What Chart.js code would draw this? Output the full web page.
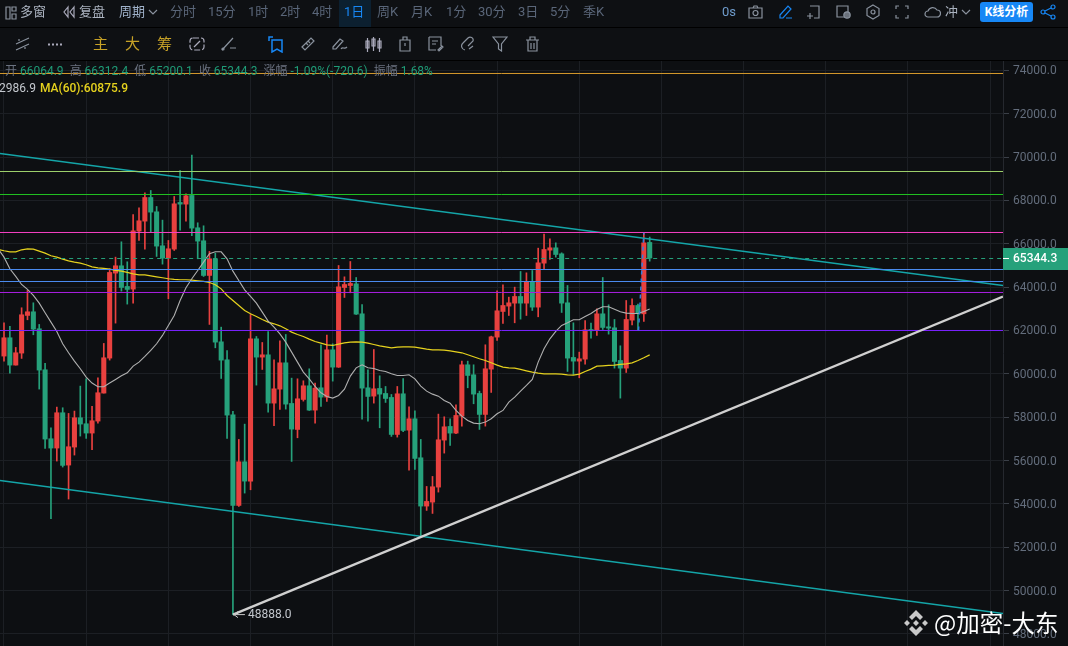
<!DOCTYPE html>
<html lang="zh"><head><meta charset="utf-8">
<script src="https://cdn.jsdelivr.net/npm/chart.js@4"></script>
<style>
html,body{margin:0;padding:0;background:#0d0f12;overflow:hidden}
#wrap{position:relative;width:1068px;height:646px;font-family:Roboto,"Noto Sans CJK SC",sans-serif;overflow:hidden}
#cv{position:absolute;left:0;top:60px}
.bar{position:absolute;left:0;width:1068px;background:#0e1013}
.sep{position:absolute;left:0;width:1068px;height:1px;background:#000}
.t{position:absolute;white-space:nowrap;font-size:13px;line-height:16px}
svg.i{position:absolute;fill:none;stroke:#8a929e;stroke-width:1.2}
#info{position:absolute;left:5px;top:64px;font-size:12px;line-height:15px;white-space:nowrap;color:#6b7280}
#info b{font-weight:400;color:#1f9d78;margin-right:6px}
.ma{position:absolute;top:81px;font-size:12px;line-height:15px;white-space:nowrap}
#wm{position:absolute;left:934px;top:606px;font-size:23.500px;line-height:32px;color:#fff;white-space:nowrap;font-family:"Noto Sans CJK SC",sans-serif}
</style></head><body>
<div id="wrap">
<canvas id="cv" width="1068" height="586"></canvas>
<div class="bar" style="top:0;height:27px"></div>
<div class="bar" style="top:28px;height:32px"></div>
<div class="sep" style="top:27px"></div><div class="sep" style="top:60px"></div>
<div style="position:absolute;left:339px;top:0;width:32px;height:27px;background:#0c2030"></div>
<div id="bar1"></div>
<div style="position:absolute;left:980px;top:2px;width:53px;height:20px;background:#1787f5;border-radius:3px;color:#fff;font-size:12px;font-weight:700;line-height:20px;text-align:center">K线分析</div>
<div id="info">开 <b>66064.9</b>高 <b>66312.4</b>低 <b>65200.1</b>收 <b>65344.3</b>涨幅 <b>-1.09%(-720.6)</b>振幅 <b>1.68%</b></div>
<div class="ma" style="left:-1px;color:#c4c8ce">2986.9</div>
<div class="ma" style="left:40px;color:#e6d21e;font-weight:500">MA(60):60875.9</div>
<!-- icons -->
<svg class="i" style="left:4px;top:6px" width="14" height="14"><path d="M2 1h4v12H2zM8 1h4v4H8zM8 8h4v5H8z"/></svg>
<svg class="i" style="left:61px;top:5px;stroke:#aab" width="16" height="14"><path d="M7 2L3 7l4 5zM13 2L9 7l4 5z"/></svg>
<svg class="i" style="left:148px;top:8px" width="10" height="8"><path d="M1 2l4 4 4-4"/></svg>
<svg class="i" style="left:748px;top:5px" width="15" height="14"><path d="M1 3h13v10H1zM5 3l1-2h3l1 2"/><circle cx="7.5" cy="8" r="2.5"/></svg>
<svg class="i" style="left:778px;top:4px;stroke:#1787f5" width="15" height="16"><path d="M2 11l8-9 3 3-8 9H2zM8 14h6"/></svg>
<svg class="i" style="left:806px;top:5px" width="14" height="14"><path d="M4 1h9v12H8M1 11h6M4 8v6"/></svg>
<svg class="i" style="left:836px;top:5px" width="15" height="14"><path d="M1 1h11v11H1z"/><circle cx="11" cy="10" r="3.2" fill="#6a717b"/></svg>
<svg class="i" style="left:866px;top:4px" width="14" height="16"><path d="M7 1l6 3.500v7L7 15l-6-3.500v-7z"/><circle cx="7" cy="8" r="2"/></svg>
<svg class="i" style="left:895px;top:5px" width="14" height="14"><path d="M1 4V1h3M10 1h3v3M13 10v3h-3M4 13H1v-3"/></svg>
<svg class="i" style="left:924px;top:5px" width="17" height="13"><path d="M4 12a3 3 0 0 1 0-6 5 5 0 0 1 9-1 3.500 3.500 0 0 1 0 7z"/></svg>
<svg class="i" style="left:961px;top:8px" width="10" height="8"><path d="M1 2l4 4 4-4"/></svg>
<svg class="i" style="left:1040px;top:4px;stroke:#1787f5" width="16" height="16"><circle cx="3" cy="8" r="2"/><circle cx="13" cy="3" r="2"/><circle cx="13" cy="13" r="2"/><path d="M5 7l6-3M5 9l6 3"/></svg>
<svg class="i" style="left:14px;top:36px" width="17" height="16"><path d="M2 8l13-6M2 14l13-6M5 3v2M11 11v2"/></svg>
<svg class="i" style="left:48px;top:43px;stroke:#aab;stroke-width:2;stroke-dasharray:2 2" width="14" height="3"><path d="M0 1.500h14"/></svg>
<svg class="i" style="left:189px;top:36px;stroke:#aab" width="16" height="16"><rect x="1" y="2" width="14" height="12" rx="3" stroke-dasharray="6 2"/><path d="M5 11l6-6"/></svg>
<svg class="i" style="left:221px;top:36px" width="16" height="16"><path d="M1 14L12 2M9 12h6"/><circle cx="2" cy="13" r="1"/></svg>
<svg class="i" style="left:268px;top:36px;stroke:#1787f5;stroke-width:1.500" width="16" height="17"><path d="M1 5V1h4M4 4h10v12l-5-3-5 3z"/></svg>
<svg class="i" style="left:300px;top:36px" width="16" height="16"><path d="M2 11l9-9 3 3-9 9zM6 7l2 2M8 5l2 2"/></svg>
<svg class="i" style="left:331px;top:36px" width="18" height="16"><path d="M2 11l7-8 3 2-7 8H2zM10 13c2-3 3 1 6-2"/></svg>
<svg class="i" style="left:364px;top:36px;stroke:#aab" width="18" height="16"><path d="M2 5h3v7H2zM8 3h3v7H8zM14 5h3v7h-3zM3.500 2v14M9.500 1v14M15.500 2v14"/></svg>
<svg class="i" style="left:398px;top:36px" width="14" height="16"><path d="M2 4h10v11H2zM5 4V1h4v3M7 7v3"/></svg>
<svg class="i" style="left:428px;top:36px" width="16" height="16"><path d="M1 1h12v9M1 1v13h7M4 5h6M4 8h4M10 14l4-4 1 1-4 4z"/></svg>
<svg class="i" style="left:460px;top:36px" width="16" height="16"><path d="M5 14a4 4 0 0 1-2-7l5-5a3 3 0 0 1 5 3l-5 5M9 13l4-3"/></svg>
<svg class="i" style="left:492px;top:36px" width="16" height="16"><path d="M1 1h14L9.500 8v7L6.500 13V8z"/></svg>
<svg class="i" style="left:525px;top:36px" width="15" height="16"><path d="M1 4h13M5 4V1h5v3M3 4v11h9V4M6 7v6M9 7v6"/></svg>
<svg style="position:absolute;left:902px;top:609px" width="28" height="28" viewBox="0 0 28 28" fill="#c9c9c9"><path d="M14 1l7 7-3 3-4-4-4 4-3-3zM5 11l3 3-3 3-3-3zM23 11l3 3-3 3-3-3zM14 11l3 3-3 3-3-3zM7 20l3-3 4 4 4-4 3 3-7 7z"/></svg>
<div id="wm">@加密-大东</div>
</div>
<script>
const opens=[60819,61665,60403,60957,62695,62864,62080,60188,57004,56574,58204,55789,56620,57973,57696,57266,57819,59111,60726,64648,64987,64033,63910,66586,67047,68139,67478,65909,65340,65756,67909,67832,68232,66740,66140,64540,65309,61478,60648,58110,53926,55941,55049,61616,60771,60878,58648,59294,60509,58633,57433,58817,59448,58325,59356,58925,61109,60309,63985,64077,64154,62770,59356,58971,59325,59094,58910,57202,59079,57402,57925,56126,53896,54080,54772,56941,57572,57264,58049,60417,59956,59094,58126,60217,61694,62878,63124,63262,63570,63262,64231,63078,65108,65708,65816,65539,63278,60756,60586,60679,62047,62001,62770,62170,62124,60617,60263,62478,63155,62770,66064.9];
const closes=[61665,60403,60972,62726,62864,62064,60173,56989,56574,58204,55774,56635,57973,57681,57266,57835,59127,60742,64679,64987,63987,63895,66601,67063,68139,67463,65894,65340,65771,67847,67832,68216,66724,66125,64540,65309,61463,60632,58095,53926,55941,55049,61616,60771,60878,58648,59309,60509,58602,57449,58848,59448,58325,59340,58925,61109,60309,64016,64123,64170,62755,59340,58956,59309,59063,58863,57202,59079,57387,57925,56095,53896,54111,54788,56956,57556,57264,58079,60417,59925,59064,58126,60233,61709,62909,63155,63278,63570,63262,64231,63078,65123,65739,65816,65508,63262,60725,60586,60694,62032,61986,62770,62140,62109,60571,60263,62509,63155,62786,66046,65344.3];
const highs=[62357,62187,61218,63049,63848,63279,62280,60480,57512,58465,58435,58173,58281,59434,59773,58496,59819,61403,64848,65386,66094,65171,67355,67663,68355,68462,67724,67094,66155,68186,69385,68308,70093,66971,66832,65648,65571,62155,61078,58264,56972,57679,62739,61724,61447,61955,60648,61524,61816,59802,59771,59679,60232,59571,61340,61786,61386,65000,64477,65185,64446,63201,60186,61124,59909,59417,59048,59417,59786,58479,58294,56972,54803,55265,58141,58018,57926,58572,60586,60586,60417,59202,61340,61740,63832,64108,63539,64001,64724,64662,64770,65800,66446,66231,66046,65585,64078,62355,61002,62463,62340,63001,64447,63186,62509,61294,63385,63462,63216,66508,66312.4];
const lows=[60588,60034,60403,60711,62495,61803,59296,56558,53313,55974,55697,54221,56251,57127,57020,56497,57727,59111,60634,62341,63818,63218,63264,66155,65756,66555,65417,65063,63464,65694,66632,67047,66371,65309,64494,62280,61201,59786,57018,48888,53880,54496,54649,59479,60202,58233,57602,58356,58371,55957,57049,58740,58310,57725,58494,58725,59663,60294,63524,63739,62739,57910,57818,58648,57510,58679,57110,57079,57325,55557,55588,52465,53696,53557,54542,56341,56695,57234,57587,59356,58618,57433,57587,59141,61540,62324,62693,62355,62524,62693,62924,62632,64831,65277,65385,62832,60110,59971,59817,60448,61648,61771,62047,61832,60263,58879,60063,62263,62001,62417,65200.1];
// moving averages start one candle before the first visible body
const maShort=[65771,65386,64848,64494,64125,63895,63618,63264,62818,62387,61957,61388,60972,60588,60234,59850,59573,59404,59404,59573,59742,59911,60050,60357,60542,60803,61080,61388,61772,62234,62695,63387,63971,64387,64771,65156,65540,65632,65631,65308,64739,64308,63877,63570,63262,62847,62432,62155,61847,61463,61001,60540,60079,59771,59417,59125,58956,58879,59002,59294,59894,60278,60417,60278,60248,60155,60109,60002,59925,59925,59956,59771,59433,59202,59063,58971,58771,58648,58310,58049,57849,57726,57695,57772,57926,58156,58310,58695,58925,59202,59464,59741,60540,61155,61617,61955,62232,62355,62493,62493,62647,62786,62970,63093,63093,62986,62863,62801,62786,62786,62878,62986.9];
const maLong=[65740,65679,65632,65632,65725,65771,65756,65663,65571,65448,65386,65294,65217,65156,65110,65033,64940,64894,64864,64833,64771,64740,64679,64617,64571,64571,64525,64479,64433,64387,64356,64341,64341,64325,64295,64264,64217,64110,63923,63616,63385,63155,62924,62770,62647,62509,62385,62309,62216,62078,61924,61816,61724,61601,61493,61417,61340,61309,61371,61432,61463,61478,61463,61417,61355,61294,61247,61201,61232,61247,61247,61232,61186,61140,61109,61109,61094,61063,61017,60971,60879,60786,60694,60617,60509,60402,60310,60279,60263,60202,60140,60079,60033,60002,60002,60002,59987,59956,59940,59987,60110,60217,60356,60371,60386,60402,60433,60463,60509,60617,60740,60875.9];
const levels=[73861,69338,68277,66523,64815,64261,63754,62000];
const levelColors=['#d69a2c','#9ccf6a','#22c322','#f540c4','#4a8aee','#4a8aee','#a81fe0','#7a22ff'];
const lastPrice=65344.3, guideLevel=65323, lowPrice=48888, lowIndex=39;
const channelTop=[70169,64077], channelBottom=[55078,48940];
const trendEnd=63569;
const penStroke=[{x:108.1,y:62000},{x:109,y:66508}];
const xTicks=[7,21,35,49,63,77,91,105,119,133,147,161];
const yTicks=[48000,50000,52000,54000,56000,58000,60000,62000,64000,66000,68000,70000,72000,74000];

const XMIN=-0.681, XMAX=170.187;
const indices=opens.map((_,i)=>i);
const up=indices.map(i=>closes[i]>=opens[i]);
const RED='#e8413f', GREEN='#26a17b';
const colors=up.map(u=>u?RED:GREEN);
const span=(a,b)=>[{x:XMIN,y:a},{x:XMAX,y:b}];
const line=(data,color,width,extra)=>Object.assign({type:'line',data,borderColor:color,borderWidth:width,pointRadius:0,tension:0,order:1,fill:false},extra||{});

const datasets=[
  {type:'bar',data:indices.map(i=>({x:i,y:[lows[i],highs[i]]})),backgroundColor:colors,barThickness:1,grouped:false,order:6},
  {type:'bar',data:indices.map(i=>({x:i,y:[opens[i],closes[i]]})),backgroundColor:colors,barThickness:4.4,grouped:false,order:5},
  line(maShort.map((y,i)=>({x:i-1,y})),'#b0b0b0',1.1,{order:3}),
  line(maLong.map((y,i)=>({x:i-1,y})),'#e6d21e',1.2,{order:3}),
  ...levels.map((v,i)=>line(span(v,v),levelColors[i],1,{order:2})),
  line([{x:0.2,y:guideLevel},{x:XMAX,y:guideLevel}],GREEN,1,{borderDash:[4,4],order:2}),
  line(span(channelTop[0],channelTop[1]),'#14a5a8',1.5,{order:2}),
  line(span(channelBottom[0],channelBottom[1]),'#14a5a8',1.5,{order:2}),
  line([{x:lowIndex,y:lowPrice},{x:XMAX,y:trendEnd}],'#d0d0d0',2.4,{order:1}),
  line(penStroke,'#2f7fe0',1.5,{borderDash:[4,4],order:1})
];

const annotations={id:'annotations',afterDraw(c){
  const g=c.ctx,x=c.scales.x,y=c.scales.y;
  g.save();
  // last price tag
  const py=Math.round(y.getPixelForValue(lastPrice));
  const right=x.right;
  g.fillStyle=GREEN;g.fillRect(right,py-10,65,22);
  g.fillStyle='#fff';g.fillRect(right,py,6,1);
  g.font='500 12px Roboto';g.textBaseline='middle';g.textAlign='left';
  g.fillText(lastPrice.toFixed(1),right+10,py+1);
  // lowest price marker
  const lx=x.getPixelForValue(lowIndex),ly=y.getPixelForValue(lowPrice);
  g.strokeStyle='#c8c8c8';g.lineWidth=1;g.beginPath();
  g.moveTo(lx+12,ly);g.lineTo(lx+1,ly);g.moveTo(lx+5,ly-3);g.lineTo(lx+1,ly);g.lineTo(lx+5,ly+3);g.stroke();
  g.fillStyle='#c2c6cc';g.font='12px Roboto';
  g.fillText(lowPrice.toFixed(1),lx+15,ly+.5);
  g.restore();
}};
const bgPlugin={id:'bg',beforeDraw(c){c.ctx.fillStyle='#0d0f12';c.ctx.fillRect(0,0,c.width,c.height);}};

new Chart(document.getElementById('cv'),{
  data:{datasets},
  plugins:[bgPlugin,annotations],
  options:{
    responsive:false,devicePixelRatio:1,animation:false,
    layout:{padding:0},
    plugins:{legend:{display:false},tooltip:{enabled:false}},
    scales:{
      x:{type:'linear',min:XMIN,max:XMAX,offset:false,
        afterBuildTicks(s){s.ticks=xTicks.map(value=>({value}));},
        afterFit(s){s.height=0;s.paddingLeft=0;s.paddingRight=0;},
        ticks:{display:false},border:{display:false},
        grid:{color:'#1c1f24',drawTicks:false}},
      y:{type:'linear',position:'right',min:47439,max:74484,
        afterBuildTicks(s){s.ticks=yTicks.map(value=>({value}));},
        afterFit(s){s.width=65;s.paddingTop=0;s.paddingBottom=0;},
        ticks:{autoSkip:false,padding:4,labelOffset:1,color:'#636d7c',font:{family:'Roboto',size:12},callback:v=>v.toFixed(1)},
        border:{display:true,color:'#25282e'},
        grid:{color:'#1c1f24',tickLength:6,tickColor:'#3a3f47'}}
    }
  }
});

const tabs=[['多窗',20,'#aab2bf'],['复盘',79,'#aab2bf'],['周期',119,'#9fb1c9'],['分时',170],['15分',208],['1时',248],['2时',280],['4时',312],['1日',344,'#1787f5'],['周K',377],['月K',411],['1分',446],['30分',478],['3日',518],['5分',550],['季K',583],['0s',722,'#6f9ccc'],['冲',945,'#aab2bf']];
const row2=[['主',93,'#c7a227'],['大',125,'#c7a227'],['筹',157,'#c7a227']];
const host=document.getElementById('bar1');
tabs.forEach(([s,x,c])=>{const e=document.createElement('div');e.className='t';e.textContent=s;e.style.cssText=`left:${x}px;top:4px;color:${c||'#5a6679'}`;host.appendChild(e);});
row2.forEach(([s,x,c])=>{const e=document.createElement('div');e.className='t';e.textContent=s;e.style.cssText=`left:${x}px;top:36px;color:${c};font-size:15px`;host.appendChild(e);});
</script>
</body></html>
